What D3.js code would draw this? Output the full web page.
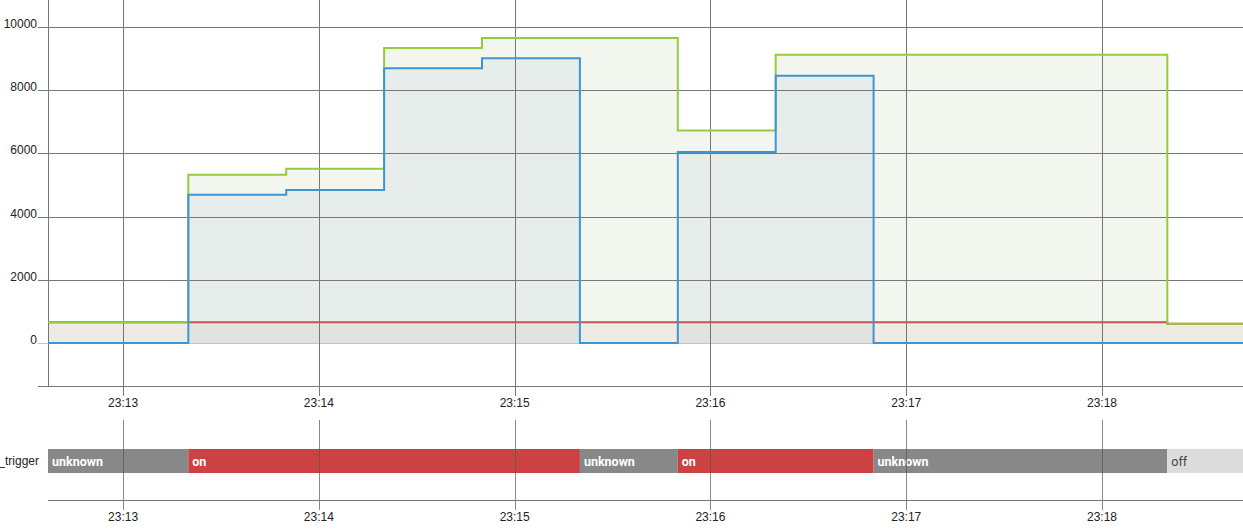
<!DOCTYPE html>
<html>
<head>
<meta charset="utf-8">
<script src="https://cdn.jsdelivr.net/npm/d3@7"></script>
<style>
html,body{margin:0;padding:0;background:#fff;overflow:hidden;}
svg{display:block;font-family:"Liberation Sans",Arial,sans-serif;}
</style>
</head>
<body>
<svg id="chart" width="1243" height="532"></svg>
<script>
// ---- data ----
const day = "2020-01-01T";
const timeDomain = ["23:12:37", "23:18:43.2"];
const yDomain = [-1360, 10850];
const yTicks = [0, 2000, 4000, 6000, 8000, 10000];
const xTicks = ["23:13", "23:14", "23:15", "23:16", "23:17", "23:18"];

const redTimes   = ["23:12:37", "23:18:20", "23:18:43.2"];
const redValues  = [660, 610, 610];

const greenTimes  = ["23:12:37", "23:13:20", "23:13:50", "23:14:20", "23:14:50", "23:15:50", "23:16:20", "23:18:20", "23:18:43.2"];
const greenValues = [660, 5320, 5510, 9330, 9650, 6720, 9120, 610, 610];

const blueTimes  = ["23:12:37", "23:13:20", "23:13:50", "23:14:20", "23:14:50", "23:15:20", "23:15:50", "23:16:20", "23:16:50", "23:18:43.2"];
const blueValues = [0, 4690, 4840, 8690, 9010, 0, 6040, 8450, 0, 0];

const timelineLabel = "_trigger";
const stateStarts = ["23:12:37", "23:13:20", "23:15:20", "23:15:50", "23:16:50", "23:18:20"];
const stateEnds   = ["23:13:20", "23:15:20", "23:15:50", "23:16:50", "23:18:20", "23:18:43.2"];
const stateNames  = ["unknown", "on", "unknown", "on", "unknown", "off"];

// ---- setup ----
const parseT = s => new Date(day + (s.length === 5 ? s + ":00" : s));
const svg = d3.select("#chart");
const W = 1243;
const left = 48;

const x = d3.scaleTime().domain(timeDomain.map(parseT)).range([left, W]);
const y = d3.scaleLinear().domain(yDomain).range([386, 0]);

const stateColor = {unknown: "#888888", on: "#cc4141", off: "#dcdcdc"};
const stateText = {unknown: "#ffffff", on: "#ffffff", off: "#444444"};

const series = [
  {times: redTimes, values: redValues, color: "#cc5252", fill: "rgb(193,136,129)", fillOp: 0.1},
  {times: greenTimes, values: greenValues, color: "#94cc3e", fill: "rgb(120,160,80)", fillOp: 0.09},
  {times: blueTimes, values: blueValues, color: "#3d96d2", fill: "rgb(113,156,209)", fillOp: 0.1}
].map(s => ({...s, pts: s.times.map((t, i) => [parseT(t), s.values[i]])}));

const area = d3.area().curve(d3.curveStepAfter).x(d => x(d[0])).y0(y(0)).y1(d => y(d[1]));
const line = d3.line().curve(d3.curveStepAfter).x(d => x(d[0])).y(d => y(d[1]));

// ---- top chart ----
const topG = svg.append("g");

topG.selectAll("path.area").data(series).join("path")
  .attr("class", "area")
  .attr("d", d => area(d.pts))
  .attr("fill", d => d.fill)
  .attr("fill-opacity", d => d.fillOp)
  .attr("stroke", "none");

topG.selectAll("line.hg").data(yTicks).join("line")
  .attr("class", "hg")
  .attr("x1", left - 10).attr("x2", W)
  .attr("y1", d => Math.round(y(d)) + 0.5).attr("y2", d => Math.round(y(d)) + 0.5)
  .attr("stroke", d => d === 0 ? "#c4c4c4" : "#777")
  .attr("stroke-width", 1);

topG.selectAll("text.yl").data(yTicks).join("text")
  .attr("class", "yl")
  .attr("x", 37).attr("y", d => Math.round(y(d)) - 2)
  .attr("text-anchor", "end")
  .attr("dominant-baseline", "middle")
  .attr("font-size", 12).attr("fill", "#222")
  .text(d => d3.format("d")(d));

const xt = xTicks.map(parseT);
topG.selectAll("line.vg").data(xt).join("line")
  .attr("class", "vg")
  .attr("x1", d => Math.round(x(d)) + 0.5).attr("x2", d => Math.round(x(d)) + 0.5)
  .attr("y1", 0).attr("y2", 396)
  .attr("stroke", "#777").attr("stroke-width", 1);

topG.append("line").attr("x1", left + 0.5).attr("x2", left + 0.5).attr("y1", 0).attr("y2", 386)
  .attr("stroke", "#777");
topG.append("line").attr("x1", left - 10).attr("x2", W).attr("y1", 386.5).attr("y2", 386.5)
  .attr("stroke", "#777");

topG.selectAll("text.xl").data(xt).join("text")
  .attr("class", "xl")
  .attr("x", d => x(d)).attr("y", 407)
  .attr("text-anchor", "middle")
  .attr("font-size", 12).attr("fill", "#222")
  .text(d3.timeFormat("%H:%M"));

topG.selectAll("path.ln").data(series).join("path")
  .attr("class", "ln")
  .attr("d", d => line(d.pts))
  .attr("fill", "none")
  .attr("stroke", d => d.color)
  .attr("stroke-width", 2);

// ---- timeline ----
const tl = svg.append("g");
const states = stateNames.map((n, i) => ({name: n, start: parseT(stateStarts[i]), end: parseT(stateEnds[i])}));

tl.selectAll("rect").data(states).join("rect")
  .attr("x", d => x(d.start)).attr("width", d => x(d.end) - x(d.start))
  .attr("y", 449).attr("height", 24)
  .attr("fill", d => stateColor[d.name]);

tl.selectAll("text.st").data(states).join("text")
  .attr("class", "st")
  .attr("x", d => x(d.start) + 4).attr("y", 465.5)
  .attr("font-family", "Roboto, 'Liberation Sans', sans-serif")
  .attr("font-weight", d => d.name === "off" ? 400 : 700)
  .attr("font-size", 12.5)
  .attr("fill", d => stateText[d.name])
  .text(d => d.name);

tl.selectAll("line.tvg").data(xt).join("line")
  .attr("class", "tvg")
  .attr("x1", d => Math.round(x(d)) + 0.5).attr("x2", d => Math.round(x(d)) + 0.5)
  .attr("y1", 420).attr("y2", 510)
  .attr("stroke", "#555").attr("stroke-opacity", 0.7);

tl.append("line").attr("x1", left).attr("x2", W).attr("y1", 500.5).attr("y2", 500.5)
  .attr("stroke", "#777");

tl.selectAll("text.txl").data(xt).join("text")
  .attr("class", "txl")
  .attr("x", d => x(d)).attr("y", 521)
  .attr("text-anchor", "middle")
  .attr("font-size", 12).attr("fill", "#222")
  .text(d3.timeFormat("%H:%M"));

tl.append("text")
  .attr("x", 39).attr("y", 465)
  .attr("text-anchor", "end")
  .attr("font-size", 12).attr("fill", "#222")
  .text(timelineLabel);
</script>
</body>
</html>
